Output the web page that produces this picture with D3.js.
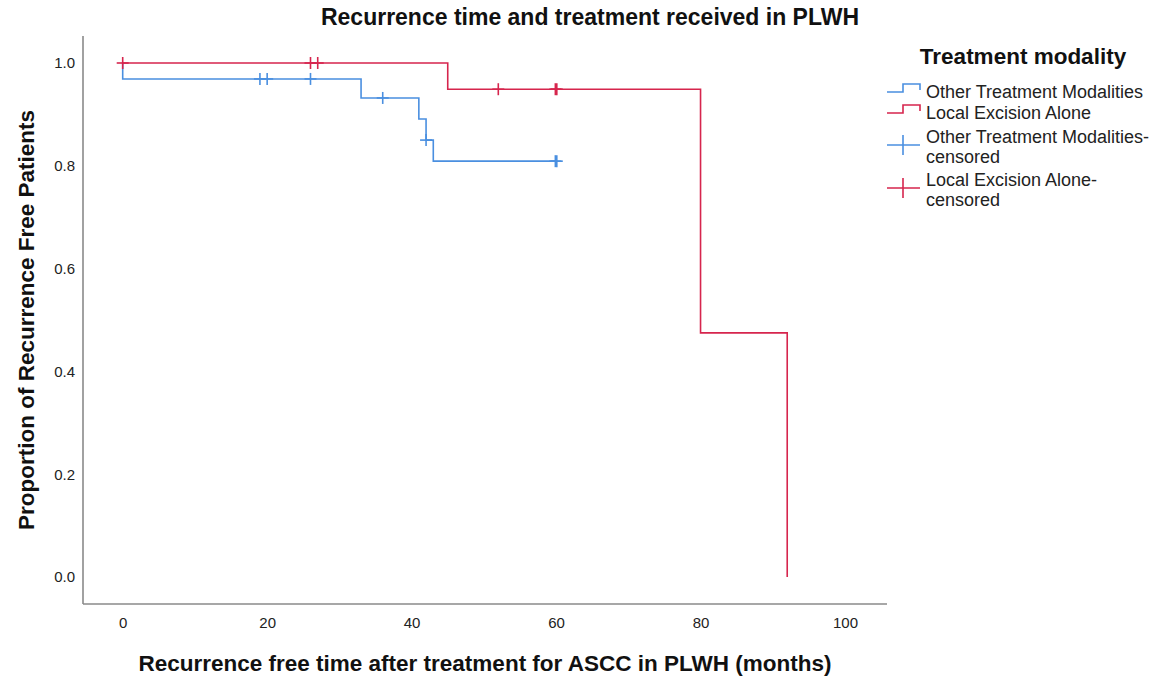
<!DOCTYPE html>
<html><head><meta charset="utf-8">
<script src="https://cdn.jsdelivr.net/npm/d3@7/dist/d3.min.js"></script>
<style>
html,body{margin:0;padding:0;background:#fff;}
svg{display:block;font-family:"Liberation Sans",Arial,sans-serif;}
</style></head>
<body><svg id="chart" width="1160" height="678"></svg>
<script>
// ---- data ----
const seriesNames = ["Other Treatment Modalities", "Local Excision Alone"];
const otherEventTimes = [0, 33, 41, 42, 43];
const otherSurvival = [0.969, 0.932, 0.891, 0.850, 0.809];
const otherEndTime = 60;
const otherCensorTimes = [19, 20, 26, 36, 42, 59.9, 60.1];
const localEventTimes = [45, 80, 92];
const localSurvival = [0.949, 0.475, 0];
const localEndTime = 92;
const localCensorTimes = [0, 26, 27, 52, 59.9, 60.1];
const xTicks = [0, 20, 40, 60, 80, 100];
const yTicks = [0, 0.2, 0.4, 0.6, 0.8, 1.0];
const colors = ["#4a8fe0", "#d6254d"];

const svg = d3.select("#chart");
const x = d3.scaleLinear().domain([0, 100]).range([122.7, 845]);
const y = d3.scaleLinear().domain([0, 1]).range([577, 63]);

// axes lines
svg.append("line").attr("x1", 83).attr("x2", 83).attr("y1", 36).attr("y2", 604)
  .attr("stroke", "#8a8a8a").attr("stroke-width", 1.6);
svg.append("line").attr("x1", 83).attr("x2", 887).attr("y1", 604).attr("y2", 604)
  .attr("stroke", "#8a8a8a").attr("stroke-width", 1.6);

const gx = svg.append("g").attr("transform", "translate(0,604)")
  .call(d3.axisBottom(x).tickValues(xTicks).tickSize(0).tickPadding(13).tickFormat(d3.format("d")));
gx.select(".domain").remove();
gx.selectAll("text").attr("font-size", 15).attr("fill", "#222").attr("font-family", "Liberation Sans, Arial, sans-serif");

const gy = svg.append("g").attr("transform", "translate(83,0)")
  .call(d3.axisLeft(y).tickValues(yTicks).tickSize(0).tickPadding(8).tickFormat(d3.format(".1f")));
gy.select(".domain").remove();
gy.selectAll("text").attr("font-size", 15).attr("fill", "#222").attr("font-family", "Liberation Sans, Arial, sans-serif");

// survival function
function survAt(times, surv, t) {
  let s = 1;
  for (let i = 0; i < times.length; i++) if (times[i] <= t) s = surv[i];
  return s;
}
function stepPoints(times, surv, end) {
  const pts = [[0, 1]];
  times.forEach((t, i) => pts.push([t, surv[i]]));
  pts.push([end, surv[surv.length - 1]]);
  return pts;
}
const line = d3.line().x(d => x(d[0])).y(d => y(d[1])).curve(d3.curveStepAfter);

const series = [
  {times: otherEventTimes, surv: otherSurvival, end: otherEndTime, cens: otherCensorTimes, color: colors[0]},
  {times: localEventTimes, surv: localSurvival, end: localEndTime, cens: localCensorTimes, color: colors[1]}
];
series.forEach(s => {
  svg.append("path").attr("d", line(stepPoints(s.times, s.surv, s.end)))
    .attr("fill", "none").attr("stroke", s.color).attr("stroke-width", 1.6);
});
series.forEach(s => {
  const g = svg.append("g");
  s.cens.forEach(t => {
    const cx = x(t), cy = y(survAt(s.times, s.surv, t));
    g.append("line").attr("x1", cx - 6).attr("x2", cx + 6).attr("y1", cy).attr("y2", cy)
      .attr("stroke", s.color).attr("stroke-width", 1.6);
    g.append("line").attr("x1", cx).attr("x2", cx).attr("y1", cy - 6).attr("y2", cy + 6)
      .attr("stroke", s.color).attr("stroke-width", 1.6);
  });
});

// titles
svg.append("text").attr("x", 590).attr("y", 25).attr("text-anchor", "middle")
  .attr("font-size", 23).attr("font-weight", "bold").attr("fill", "#111")
  .text("Recurrence time and treatment received in PLWH");
svg.append("text").attr("x", 485).attr("y", 671).attr("text-anchor", "middle")
  .attr("font-size", 22.5).attr("font-weight", "bold").attr("fill", "#111")
  .text("Recurrence free time after treatment for ASCC in PLWH (months)");
svg.append("text").attr("transform", "translate(34,320) rotate(-90)").attr("text-anchor", "middle")
  .attr("font-size", 22.5).attr("font-weight", "bold").attr("fill", "#111")
  .text("Proportion of Recurrence Free Patients");

// legend
const lg = svg.append("g");
lg.append("text").attr("x", 1023).attr("y", 64).attr("text-anchor", "middle")
  .attr("font-size", 22.5).attr("font-weight", "bold").attr("fill", "#111").text("Treatment modality");
const legendItems = [
  {lines: [seriesNames[0]], color: colors[0], type: "step", y: 98},
  {lines: [seriesNames[1]], color: colors[1], type: "step", y: 119},
  {lines: [seriesNames[0] + "-", "censored"], color: colors[0], type: "cens", y: 143},
  {lines: [seriesNames[1] + "-", "censored"], color: colors[1], type: "cens", y: 186}
];
legendItems.forEach(it => {
  if (it.type === "step") {
    const b = it.y - 6;
    lg.append("path").attr("d", `M887,${b}H903V${b-8}H920V${b-2}`)
      .attr("fill", "none").attr("stroke", it.color).attr("stroke-width", 1.6);
  } else {
    const cy = it.y + 2;
    lg.append("line").attr("x1", 887).attr("x2", 920).attr("y1", cy).attr("y2", cy)
      .attr("stroke", it.color).attr("stroke-width", 1.6);
    lg.append("line").attr("x1", 903).attr("x2", 903).attr("y1", cy - 10).attr("y2", cy + 10)
      .attr("stroke", it.color).attr("stroke-width", 1.6);
  }
  it.lines.forEach((l, i) => {
    lg.append("text").attr("x", 926).attr("y", it.y + i * 19.5)
      .attr("font-size", 18).attr("fill", "#222").text(l);
  });
});
</script></body></html>
